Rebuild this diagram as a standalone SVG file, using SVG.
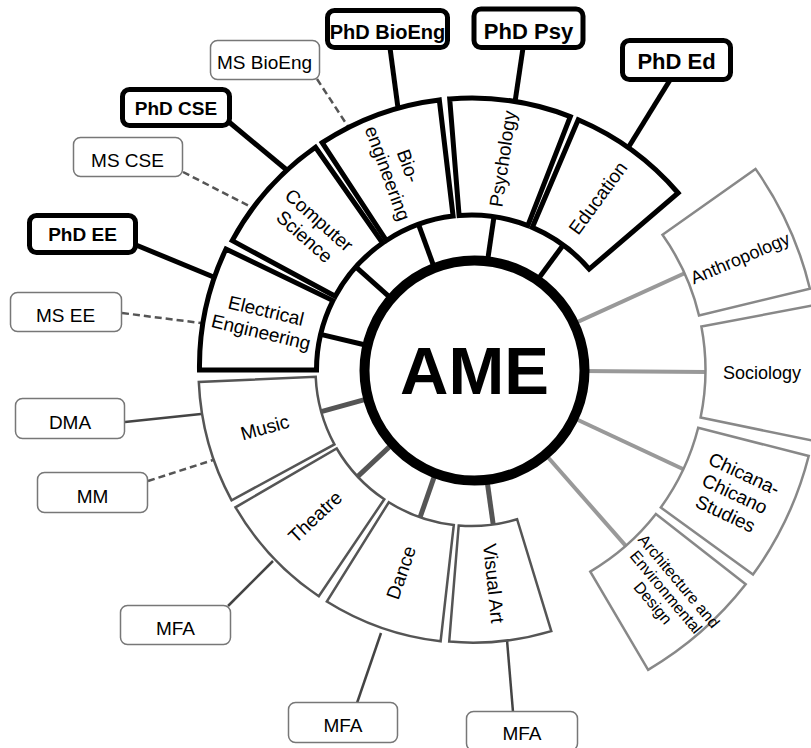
<svg xmlns="http://www.w3.org/2000/svg" width="811" height="748" viewBox="0 0 811 748">
<style>
text{font-family:"Liberation Sans",Arial,Helvetica,sans-serif;fill:#000}
.lbl{font-size:19px;text-anchor:middle}
.deg{font-size:19px;text-anchor:middle}
.phd{font-weight:bold;text-anchor:middle}
.segB{fill:#fff;stroke:#000;stroke-width:5;stroke-linejoin:miter}
.segD{fill:#fff;stroke:#555;stroke-width:2.5}
.segL{fill:#fff;stroke:#888;stroke-width:2.5}
.boxB{fill:#fff;stroke:#000;stroke-width:5}
.boxG{fill:#fff;stroke:#777;stroke-width:1.5}
.spB{stroke:#000;stroke-width:5}
.spD{stroke:#555;stroke-width:5}
.spL{stroke:#999;stroke-width:4}
.cB{stroke:#000;stroke-width:5}
.cD{stroke:#444;stroke-width:2.5}
.dash{stroke:#555;stroke-width:2.5;stroke-dasharray:7 4}
</style>
<rect width="811" height="748" fill="#fff"/>
<g id="connectors" fill="none">
  <line class="spB" x1="536.5" y1="281.3" x2="563.2" y2="245.0"/>
  <line class="spB" x1="487.5" y1="261.2" x2="494.0" y2="216.6"/>
  <line class="spB" x1="433.9" y1="266.6" x2="418.5" y2="224.3"/>
  <line class="spB" x1="389.4" y1="296.8" x2="355.8" y2="266.9"/>
  <line class="spB" x1="364.4" y1="344.7" x2="320.7" y2="334.4"/>
  <line class="spD" x1="365.5" y1="399.4" x2="321.2" y2="411.7"/>
  <line class="spD" x1="391.2" y1="445.2" x2="357.6" y2="476.6"/>
  <line class="spD" x1="435.2" y1="473.9" x2="420.1" y2="517.3"/>
  <line class="spD" x1="486.8" y1="478.9" x2="493.2" y2="524.5"/>
  <line class="spL" x1="571.7" y1="324.6" x2="684.6" y2="273.3"/>
  <line class="spL" x1="581.5" y1="371" x2="705.5" y2="372"/>
  <line class="spL" x1="571.1" y1="416.7" x2="683.4" y2="469.3"/>
  <line class="spL" x1="544.0" y1="452.7" x2="625.8" y2="545.9"/>
  <line class="cB" x1="136" y1="245" x2="216" y2="278"/>
  <line class="dash" x1="122" y1="313" x2="201" y2="323"/>
  <line class="cB" x1="229" y1="122" x2="288" y2="171"/>
  <line class="dash" x1="183" y1="172" x2="253" y2="208"/>
  <line class="dash" x1="317" y1="79" x2="349" y2="128"/>
  <line class="cB" x1="390" y1="48" x2="398" y2="108"/>
  <line class="cB" x1="523" y1="48" x2="515" y2="102"/>
  <line class="cB" x1="670" y1="80" x2="628" y2="148"/>
  <line class="cD" x1="125" y1="422" x2="201" y2="414"/>
  <line class="dash" x1="148" y1="481" x2="213" y2="460"/>
  <line class="cD" x1="228" y1="606" x2="273" y2="561"/>
  <line class="cD" x1="357" y1="703" x2="381" y2="633"/>
  <line class="cD" x1="513" y1="712" x2="507" y2="640"/>
</g>
<g id="seg-education"><path class="segB" d="M678.1,193.0 A272,272 0 0 0 578.2,119.8 L532.3,227.4 A155,155 0 0 1 589.2,269.1 Z"/><text class="lbl" transform="translate(597.7,197.8) rotate(-53.75)" y="6.8">Education</text></g>
<g id="seg-psychology"><path class="segB" d="M570.3,116.6 A272,272 0 0 0 449.7,98.9 L459.1,215.5 A155,155 0 0 1 527.8,225.6 Z"/><text class="lbl" transform="translate(502.5,158.8) rotate(-81.65)" y="6.8">Psychology</text></g>
<g id="seg-bioengineering"><path class="segB" d="M439.3,99.9 A272,272 0 0 0 322.2,142.7 L386.4,240.5 A155,155 0 0 1 453.1,216.1 Z"/><text class="lbl" transform="translate(398.5,169.4) rotate(70)"><tspan x="0" y="-4">Bio-</tspan><tspan x="0" y="18">engineering</tspan></text></g>
<g id="seg-cs"><path class="segB" d="M315.5,147.2 A272,272 0 0 0 232.2,240.6 L335.2,296.3 A155,155 0 0 1 382.6,243.0 Z"/><text class="lbl" transform="translate(312.1,228.0) rotate(41.7)"><tspan x="0" y="-4">Computer</tspan><tspan x="0" y="18">Science</tspan></text></g>
<g id="seg-ee"><path class="segB" d="M226,249 A272,272 0 0 0 199.5,370 L316.5,370 A155,155 0 0 1 332.9,300.6 Z"/><text class="lbl" transform="translate(263.7,320.9) rotate(13.3)"><tspan x="0" y="-4">Electrical</tspan><tspan x="0" y="18">Engineering</tspan></text></g>
<g id="seg-music"><path class="segD" d="M198.8,381.9 A273,273 0 0 0 231.6,500.3 L334.4,444.4 A156,156 0 0 1 315.7,376.8 Z"/><text class="lbl" transform="translate(264.8,427.3) rotate(-15.5)" y="6.8">Music</text></g>
<g id="seg-theatre"><path class="segD" d="M235.5,507.3 A273,273 0 0 0 318.8,596.3 L384.3,499.3 A156,156 0 0 1 336.7,448.5 Z"/><text class="lbl" transform="translate(314.9,516.6) rotate(-43.1)" y="6.8">Theatre</text></g>
<g id="seg-dance"><path class="segD" d="M326.8,601.5 A273,273 0 0 0 440.6,641.3 L453.8,525.0 A156,156 0 0 1 388.8,502.3 Z"/><text class="lbl" transform="translate(400.8,572.5) rotate(-70.75)" y="6.8">Dance</text></g>
<g id="seg-visualart"><path class="segD" d="M449.2,641.6 A273,273 0 0 0 551.3,631.1 L517.1,519.2 A156,156 0 0 1 458.7,525.5 Z"/><text class="lbl" transform="translate(493.9,583.3) rotate(84)" y="6.8">Visual Art</text></g>
<g id="seg-anthropology"><path class="segL" d="M809.9,288.8 A348,348 0 0 0 755.5,168.9 L662.5,234.8 A234,234 0 0 1 699.0,315.4 Z"/><text class="lbl" style="font-size:18px" transform="translate(740,258) rotate(-23)" y="6.4">Anthropology</text></g>
<g id="seg-sociology"><path class="segL" d="M813.4,305.4 A348,348 0 0 1 812.3,440.6 L700.6,417.5 A234,234 0 0 0 701.4,326.5 Z"/><text class="lbl" style="font-size:18px" x="762" y="379.4">Sociology</text></g>
<g id="seg-chicana"><path class="segL" d="M808.7,456.0 A348,348 0 0 1 753.0,574.6 L660.8,507.5 A234,234 0 0 0 698.2,427.8 Z"/><text class="lbl" transform="translate(735,493.4) rotate(25.1)"><tspan x="0" y="-15">Chicana-</tspan><tspan x="0" y="7">Chicano</tspan><tspan x="0" y="29">Studies</tspan></text></g>
<g id="seg-architecture"><path class="segL" d="M745.7,584.3 A348,348 0 0 1 648.1,669.8 L590.3,571.6 A234,234 0 0 0 655.9,514.1 Z"/><text class="lbl" style="font-size:16px" transform="translate(666,592) rotate(50)"><tspan x="0" y="-11.5">Architecture and</tspan><tspan x="0" y="5.5">Environmental</tspan><tspan x="0" y="22.5">Design</tspan></text></g>
<g id="ame"><circle cx="474.5" cy="370.5" r="110" fill="#fff" stroke="#000" stroke-width="10"/><text x="474.5" y="394" style="font-size:67px;font-weight:bold;text-anchor:middle">AME</text></g>
<g id="phd-ee"><rect class="boxB" x="29.5" y="215.5" width="106" height="37" rx="7"/><text class="phd" style="font-size:19px" x="82.5" y="241">PhD EE</text></g>
<g id="ms-ee"><rect class="boxG" x="10.5" y="292.5" width="111" height="39" rx="7"/><text class="deg" x="65.5" y="321.5">MS EE</text></g>
<g id="phd-cse"><rect class="boxB" x="122.5" y="89.5" width="107" height="36" rx="7"/><text class="phd" style="font-size:19px" x="176" y="115">PhD CSE</text></g>
<g id="ms-cse"><rect class="boxG" x="73.5" y="137.5" width="109" height="39" rx="7"/><text class="deg" x="127.5" y="166.5">MS CSE</text></g>
<g id="ms-bioeng"><rect class="boxG" x="210.5" y="40.5" width="109" height="39" rx="7"/><text class="deg" x="264.5" y="68.5">MS BioEng</text></g>
<g id="phd-bioeng"><rect class="boxB" x="327.5" y="10.5" width="120" height="37" rx="7"/><text class="phd" style="font-size:20px" x="387.5" y="39">PhD BioEng</text></g>
<g id="phd-psy"><rect class="boxB" x="474" y="9" width="109" height="38.5" rx="7"/><text class="phd" style="font-size:22px" x="528.5" y="38.5">PhD Psy</text></g>
<g id="phd-ed"><rect class="boxB" x="622.5" y="40.5" width="108" height="39" rx="7"/><text class="phd" style="font-size:22px" x="676.5" y="69">PhD Ed</text></g>
<g id="dma"><rect class="boxG" x="15.5" y="398.5" width="109" height="40" rx="7"/><text class="deg" x="70" y="429">DMA</text></g>
<g id="mm"><rect class="boxG" x="37.5" y="472.5" width="110" height="40" rx="7"/><text class="deg" x="92.5" y="503">MM</text></g>
<g id="mfa-theatre"><rect class="boxG" x="120.5" y="605.5" width="110" height="39" rx="7"/><text class="deg" x="175.5" y="635">MFA</text></g>
<g id="mfa-dance"><rect class="boxG" x="288.5" y="702.5" width="109" height="40" rx="7"/><text class="deg" x="343" y="732">MFA</text></g>
<g id="mfa-visualart"><rect class="boxG" x="466.5" y="711.5" width="111" height="39" rx="7"/><text class="deg" x="522" y="740">MFA</text></g>
</svg>
